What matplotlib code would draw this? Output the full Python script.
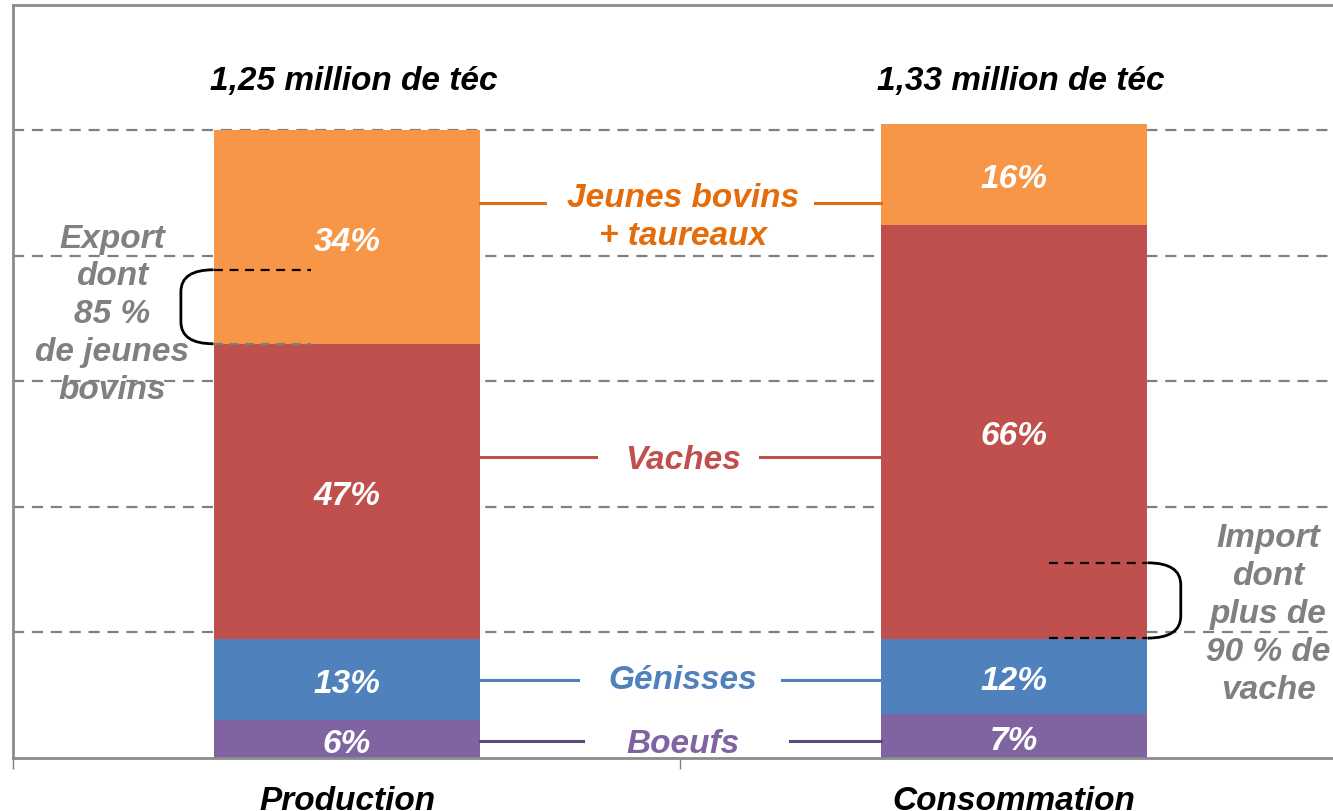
import numpy as np
import matplotlib
matplotlib.use("Agg")
import matplotlib.pyplot as plt
from matplotlib.path import Path
from matplotlib.patches import PathPatch

# data
categories = ["Production", "Consommation"]
totals = ["1,25 million de téc", "1,33 million de téc"]
segments = ["Boeufs", "Génisses", "Vaches", "Jeunes bovins\n+ taureaux"]
production = [6, 13, 47, 34]
consommation = [7, 12, 66, 16]

bar_colors = ["#8064A2", "#4F81BD", "#C0504D", "#F79646"]
text_colors = ["#8064A2", "#4F81BD", "#C0504D", "#E46C0A"]
conn_colors = ["#5F497A", "#4F81BD", "#C0504D", "#E46C0A"]

plt.rcParams['font.family'] = ['Liberation Sans', 'DejaVu Sans']
FONT = dict(fontweight='bold', fontstyle='italic')
FS = 24
LS = 1.29

fig = plt.figure(figsize=(13.33, 8.11), dpi=100)
ax = fig.add_axes([0.0101, 0.0654, 1.0008, 0.9285])

x = np.arange(len(categories))
w = 0.4
vals = np.array([production, consommation])
bottoms = np.zeros(2)
for i in range(len(segments)):
    ax.bar(x, vals[:, i], w, bottom=bottoms, color=bar_colors[i], zorder=2)
    for j in range(2):
        ax.text(x[j], bottoms[j] + vals[j, i] / 2 - 0.8, f"{vals[j, i]}%", color='white',
                ha='center', va='center', fontsize=FS, zorder=3, **FONT)
    bottoms += vals[:, i]

# connectors + segment names
conn_y = [2.7, 12.4, 48, 88.4]
text_y = [2.2, 12.3, 47.4, 86.2]
gaps = [(0.354, 0.664), (0.346, 0.652), (0.373, 0.619), (0.297, 0.702)]
for i, name in enumerate(segments):
    ax.plot([w / 2, gaps[i][0]], [conn_y[i]] * 2, color=conn_colors[i], lw=2.2, zorder=3)
    ax.plot([gaps[i][1], 1 - w / 2], [conn_y[i]] * 2, color=conn_colors[i], lw=2.2, zorder=3)
    ax.text(0.504, text_y[i], name, color=text_colors[i], ha='center', va='center',
            fontsize=FS, linespacing=LS, **FONT)

# totals above bars
for j in range(2):
    ax.text(x[j] + 0.01, 107.8, totals[j], ha='center', va='center', fontsize=FS,
            color='black', **FONT)

# export / import notes
ax.text(-0.352, 70.6, "Export\ndont\n85 %\nde jeunes\nbovins", color='#808080',
        ha='center', va='center', fontsize=FS, linespacing=LS, zorder=4, **FONT)
ax.text(1.381, 22.9, "Import\ndont\nplus de\n90 % de\nvache", color='#808080',
        ha='center', va='center', fontsize=FS, linespacing=LS, zorder=4, **FONT)


def bracket(x0, xe, yt, yb, ry):
    verts = [(x0, yt), (xe, yt), (xe, yt - ry), (xe, yb + ry), (xe, yb), (x0, yb)]
    codes = [Path.MOVETO, Path.CURVE3, Path.CURVE3, Path.LINETO, Path.CURVE3, Path.CURVE3]
    ax.add_patch(PathPatch(Path(verts, codes), fill=False, ec='black', lw=2, zorder=4))


bracket(-0.2, -0.249, 77.8, 66, 3.5)
ax.plot([-0.2, -0.054], [77.8, 77.8], color='black', lw=1.6, ls=(0, (4, 3)), zorder=4)
ax.plot([-0.2, -0.054], [66, 66], color='#7f7f7f', lw=1.6, ls=(0, (4, 3)), zorder=4)
bracket(1.2, 1.25, 31.1, 19.1, 3.5)
ax.plot([1.0525, 1.2], [31.1, 31.1], color='black', lw=1.6, ls=(0, (4, 3)), zorder=4)
ax.plot([1.0525, 1.2], [19.1, 19.1], color='black', lw=1.6, ls=(0, (4, 3)), zorder=4)

# axes styling
ax.set_xlim(-0.5, 1.5)
ax.set_ylim(0, 120)
for yv in [20, 40, 60, 80, 100]:
    ax.axhline(yv, color='#808080', lw=1.6, ls=(0, (5, 3.5)), zorder=1)
ax.set_yticks([])
ax.set_xticks(x)
ax.set_xticklabels(categories, fontsize=FS, **FONT)
ax.tick_params(axis='x', which='major', length=0, pad=20)
ax.set_xticks([-0.5, 0.5, 1.5], minor=True)
ax.tick_params(axis='x', which='minor', length=8, width=1, color='#808080', direction='out')
for s in ['left', 'bottom', 'top']:
    ax.spines[s].set_color('#8c8c8c')
    ax.spines[s].set_linewidth(2)
ax.spines['right'].set_visible(False)

fig.savefig("out.png", dpi=100)
